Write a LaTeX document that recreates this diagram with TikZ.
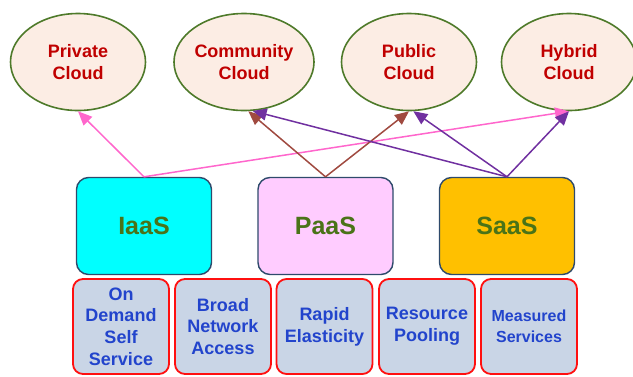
\documentclass[tikz,border=0pt]{standalone}
\usepackage{fontspec}
\setmainfont{Liberation Sans}
\usetikzlibrary{shapes.geometric,arrows.meta}
\definecolor{cloudfill}{HTML}{FCEDE4}
\definecolor{cloudline}{HTML}{4E7A2A}
\definecolor{cloudtext}{HTML}{C00000}
\definecolor{svcline}{HTML}{2E4A6B}
\definecolor{svctext}{HTML}{4A7318}
\definecolor{iaasfill}{HTML}{00FFFF}
\definecolor{paasfill}{HTML}{FFCCFF}
\definecolor{saasfill}{HTML}{FFC000}
\definecolor{traitfill}{HTML}{C9D5E6}
\definecolor{traitline}{HTML}{FF1010}
\definecolor{traittext}{HTML}{2244CC}
\definecolor{linkpink}{HTML}{FF66CC}
\definecolor{linkbrown}{HTML}{A04A40}
\definecolor{linkpurple}{HTML}{7030A0}

\begin{document}
\begin{tikzpicture}[x=1pt,y=-1pt,
    cloud/.style={ellipse,draw=cloudline,fill=cloudfill,line width=1.6pt,minimum width=135pt,minimum height=97pt,inner sep=0pt,align=center,text=cloudtext,font=\bfseries\fontsize{18}{21.5}\selectfont},
    service/.style={draw=svcline,line width=1.4pt,rounded corners=12pt,minimum width=135pt,minimum height=97pt,text=svctext,font=\bfseries\fontsize{25}{30}\selectfont},
    trait/.style={draw=traitline,fill=traitfill,line width=1.8pt,rounded corners=10pt,minimum width=96pt,minimum height=95pt,inner sep=0pt,align=center,text=traittext,font=\bfseries\fontsize{18}{21.7}\selectfont},
    link/.style={line width=1.5pt,-{Triangle[length=14pt,width=12pt]}}]
    \useasboundingbox (0,0) rectangle (633,376);
    \node[cloud] (private) at (78,62) {Private\\Cloud};
    \node[cloud] (community) at (244,62) {Community\\Cloud};
    \node[cloud] (public) at (409,62) {Public\\Cloud};
    \node[cloud] (hybrid) at (569,62) {Hybrid\\Cloud};
    \node[service,fill=iaasfill] (iaas) at (144,226) {IaaS};
    \node[service,fill=paasfill] (paas) at (325.5,226) {PaaS};
    \node[service,fill=saasfill] (saas) at (507,226) {SaaS};
    \node[trait] (ondemand) at (121,326.5) {On\\Demand\\Self\\Service};
    \node[trait] (broad) at (223,326.5) {Broad\\Network\\Access};
    \node[trait] (rapid) at (324.5,326.5) {Rapid\\Elasticity};
    \node[trait] (pooling) at (427,326.5) {Resource\\Pooling};
    \node[trait,font=\bfseries\fontsize{16}{21}\selectfont] (measured) at (529,326.5) {Measured\\Services};
    \draw[link,linkpink] (iaas.north) -- (private.south);
    \draw[link,linkpink] (iaas.north) -- (hybrid.south);
    \draw[link,linkbrown] (paas.north) -- (community.-85);
    \draw[link,linkbrown] (paas.north) -- (public.south);
    \draw[link,linkpurple] (saas.north) -- (community.-80);
    \draw[link,linkpurple] (saas.north) -- (public.-85);
    \draw[link,linkpurple] (saas.north) -- (hybrid.south);
\end{tikzpicture}
\end{document}
